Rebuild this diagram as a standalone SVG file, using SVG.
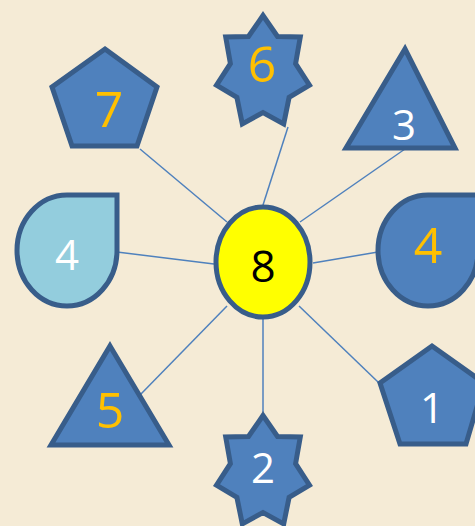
<svg xmlns="http://www.w3.org/2000/svg" xmlns:xlink="http://www.w3.org/1999/xlink" width="475" height="526" viewBox="0 0 475 526">
<style>
.shape{fill:#4F81BD;stroke:#385D8A;stroke-width:5;stroke-linejoin:miter}
.light{fill:#93CDDD}
.conn{stroke:#4F81BD;stroke-width:1.5;fill:none}
text{font-family:"Open Sans","Liberation Sans",sans-serif;text-anchor:middle}
.gold{fill:#FFC000;font-size:50px}
.white{fill:#FFFFFF;font-size:42px}
.black{fill:#000000;font-size:44px}
</style>
<defs>
<path id="star7" d="M0,-57 L14.5,-36 L37.3,-35.5 L32.6,-8.9 L46.5,12.7 L26.1,24.9 L20.7,51.4 L0,40 L-20.7,51.4 L-26.1,24.9 L-46.5,12.7 L-32.6,-8.9 L-37.3,-35.5 L-14.5,-36 Z"/>
</defs>
<rect x="0" y="0" width="475" height="526" fill="#F5EBD6"/>
<g id="connectors">
<line class="conn" x1="263" y1="205" x2="288" y2="127"/>
<line class="conn" x1="227" y1="222" x2="140" y2="149"/>
<line class="conn" x1="300" y1="222" x2="405" y2="149"/>
<line class="conn" x1="214" y1="264" x2="117" y2="252"/>
<line class="conn" x1="313" y1="263" x2="378" y2="252"/>
<line class="conn" x1="299" y1="306" x2="378" y2="382"/>
<line class="conn" x1="227" y1="306" x2="140" y2="395"/>
<line class="conn" x1="263" y1="319" x2="263" y2="412"/>
</g>
<g id="node6">
<use xlink:href="#star7" class="shape" transform="translate(263,72.5)"/>
<text class="gold" x="262" y="82">6</text>
</g>
<g id="node7">
<polygon class="shape" points="105,49 157,87 137,146 72,146 52,87"/>
<text class="gold" x="109" y="127">7</text>
</g>
<g id="node3">
<polygon class="shape" points="405,49 455,148 346,148"/>
<text class="white" x="404" y="140">3</text>
</g>
<g id="node4left">
<path class="shape light" d="M117,195 L117,250.5 A50,55.5 0 0 1 67,306 A50,55.5 0 0 1 17,250.5 A50,55.5 0 0 1 67,195 Z"/>
<text class="white" x="67" y="270">4</text>
</g>
<g id="node4right">
<path class="shape" d="M478,195 L478,250.5 A50,55.5 0 0 1 428,306 A50,55.5 0 0 1 378,250.5 A50,55.5 0 0 1 428,195 Z"/>
<text class="gold" x="428" y="263">4</text>
</g>
<g id="node8">
<ellipse cx="263" cy="262" rx="47" ry="55" fill="#FFFF00" stroke="#385D8A" stroke-width="5"/>
<text class="black" x="263" y="282">8</text>
</g>
<g id="node5">
<polygon class="shape" points="110,346 169,445 51,445"/>
<text class="gold" x="110" y="428">5</text>
</g>
<g id="node1">
<polygon class="shape" points="432,346 484,383 466,444 400,444 380,383"/>
<text class="white" x="432" y="423">1</text>
</g>
<g id="node2">
<use xlink:href="#star7" class="shape" transform="translate(263,472.5)"/>
<text class="white" x="263" y="483">2</text>
</g>
</svg>
